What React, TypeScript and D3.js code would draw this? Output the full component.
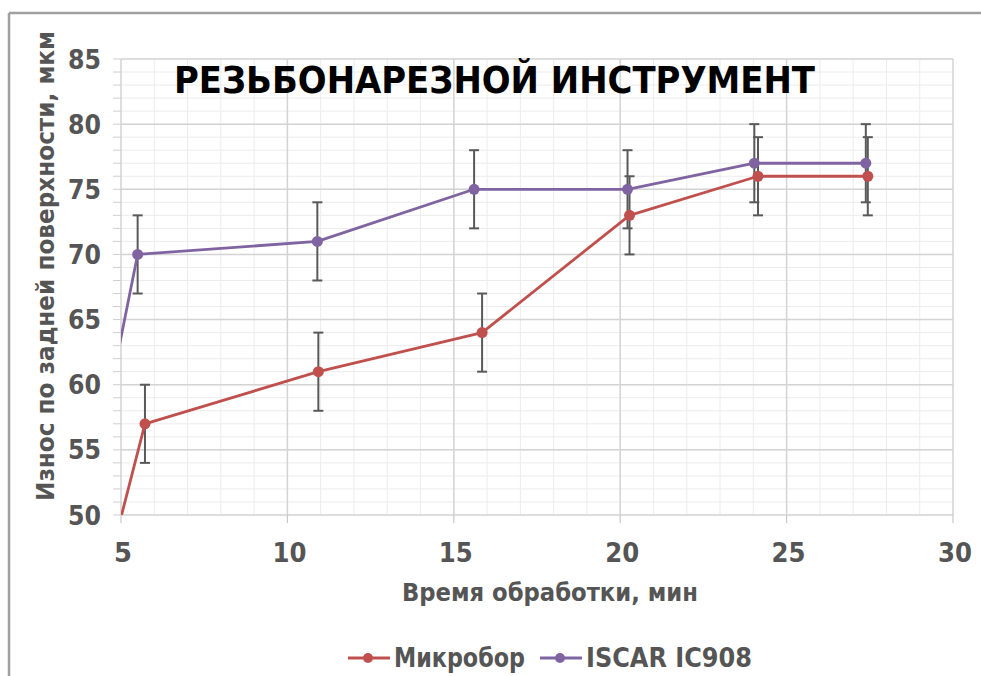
import React from 'react'
import * as d3 from 'd3'

// Время обработки (мин) и износ (мкм); первая точка (0, 0) обрезается осями
const timeMicrobor = [0, 5.72, 10.93, 15.85, 20.28, 24.14, 27.44]
const wearMicrobor = [0, 57, 61, 64, 73, 76, 76]
const errMicrobor = [0, 3, 3, 3, 3, 3, 3]

const timeIscar = [0, 5.5, 10.9, 15.61, 20.22, 24.03, 27.38]
const wearIscar = [0, 70, 71, 75, 75, 77, 77]
const errIscar = [0, 3, 3, 3, 3, 3, 3]

const seriesNames = ['Микробор', 'ISCAR IC908']
const seriesColors = ['#c0504d', '#8064a2']

const xTicks = [5, 10, 15, 20, 25, 30]
const yTicks = [50, 55, 60, 65, 70, 75, 80, 85]

const W = 981
const H = 676
const font = '"DejaVu Sans", sans-serif'
const textGray = '#555555'

const App = () => {
    const x = d3.scaleLinear().domain([5, 30]).range([121, 953])
    const y = d3.scaleLinear().domain([50, 85]).range([515, 59])

    const minorX = d3.range(5, 31, 1)
    const minorY = d3.range(50, 86, 1)

    const series = [
        { name: seriesNames[0], color: seriesColors[0], t: timeMicrobor, v: wearMicrobor, e: errMicrobor },
        { name: seriesNames[1], color: seriesColors[1], t: timeIscar, v: wearIscar, e: errIscar },
    ]

    const line = d3.line<[number, number]>()
        .x(d => x(d[0]))
        .y(d => y(d[1]))

    return (
        <svg width={W} height={H} style={{ position: 'absolute', left: 0, top: 0, background: '#fff' }}>
            <defs>
                <clipPath id="plot">
                    <rect x={x(5)} y={y(85) - 30} width={x(30) - x(5)} height={y(50) - y(85) + 30} />
                </clipPath>
            </defs>

            {/* рамка */}
            <line x1={9} x2={W} y1={13} y2={13} stroke="#a0a0a0" strokeWidth={2.5} />
            <line x1={9} x2={9} y1={13} y2={H} stroke="#a0a0a0" strokeWidth={2.5} />

            {/* сетка */}
            {minorY.map(v => (
                <line key={'my' + v} x1={x(5)} x2={x(30)} y1={y(v)} y2={y(v)} stroke="#ececec" strokeWidth={1} />
            ))}
            {minorX.map(v => (
                <line key={'mx' + v} x1={x(v)} x2={x(v)} y1={y(50)} y2={y(85)} stroke="#ececec" strokeWidth={1} />
            ))}
            {yTicks.map(v => (
                <line key={'gy' + v} x1={x(5)} x2={x(30)} y1={y(v)} y2={y(v)} stroke="#d4d4d4" strokeWidth={1.5} />
            ))}
            {xTicks.map(v => (
                <line key={'gx' + v} x1={x(v)} x2={x(v)} y1={y(50)} y2={y(85)} stroke="#d4d4d4" strokeWidth={1.5} />
            ))}

            {/* засечки */}
            {minorY.map(v => (
                <line key={'ty' + v} x1={x(5) - 8} x2={x(5)} y1={y(v)} y2={y(v)} stroke="#cfcfcf" strokeWidth={1} />
            ))}
            {xTicks.map(v => (
                <line key={'tx' + v} x1={x(v)} x2={x(v)} y1={y(50)} y2={y(50) + 8} stroke="#c8c8c8" strokeWidth={1.2} />
            ))}

            {/* подписи осей */}
            {yTicks.map(v => (
                <text key={'ly' + v} x={101} y={y(v) + 9.5} textAnchor="end" fontFamily={font} fontWeight="600"
                    fontSize={26} fill={textGray} textLength={33} lengthAdjust="spacingAndGlyphs">{v}</text>
            ))}
            {xTicks.map(v => (
                <text key={'lx' + v} x={x(v) + 2} y={562} textAnchor="middle" fontFamily={font} fontWeight="600"
                    fontSize={26} fill={textGray} textLength={v < 10 ? 18 : 34} lengthAdjust="spacingAndGlyphs">{v}</text>
            ))}

            <text x={550} y={601} textAnchor="middle" fontFamily={font} fontWeight="600" fontSize={24} fill={textGray}
                textLength={296} lengthAdjust="spacingAndGlyphs">Время обработки, мин</text>
            <text transform="translate(54,266) rotate(-90)" textAnchor="middle" fontFamily={font} fontWeight="600"
                fontSize={24} fill={textGray} textLength={470} lengthAdjust="spacingAndGlyphs">Износ по задней поверхности, мкм</text>

            {/* погрешности */}
            <g clipPath="url(#plot)">
                {series.map(s => s.t.map((t, i) => s.e[i] > 0 && (
                    <g key={s.name + i} stroke="#595959" strokeWidth={2}>
                        <line x1={x(t)} x2={x(t)} y1={y(s.v[i] - s.e[i])} y2={y(s.v[i] + s.e[i])} />
                        <line x1={x(t) - 5} x2={x(t) + 5} y1={y(s.v[i] - s.e[i])} y2={y(s.v[i] - s.e[i])} />
                        <line x1={x(t) - 5} x2={x(t) + 5} y1={y(s.v[i] + s.e[i])} y2={y(s.v[i] + s.e[i])} />
                    </g>
                )))}
            </g>

            {/* линии и маркеры */}
            <g clipPath="url(#plot)">
                {series.map(s => (
                    <g key={s.name}>
                        <path d={line(s.t.map((t, i) => [t, s.v[i]] as [number, number])) || ''}
                            fill="none" stroke={s.color} strokeWidth={2.8} strokeLinejoin="round" />
                        {s.t.map((t, i) => i > 0 && (
                            <circle key={i} cx={x(t)} cy={y(s.v[i])} r={5.5} fill={s.color} />
                        ))}
                    </g>
                ))}
            </g>

            {/* заголовок */}
            <text x={174} y={93} fontFamily={font} fontWeight="bold" fontSize={38} fill="#000"
                textLength={641} lengthAdjust="spacingAndGlyphs">РЕЗЬБОНАРЕЗНОЙ ИНСТРУМЕНТ</text>

            {/* легенда */}
            {series.map((s, i) => {
                const lx = i === 0 ? 348 : 540
                const tw = i === 0 ? 131 : 166
                return (
                    <g key={'lg' + s.name}>
                        <line x1={lx} x2={lx + 42} y1={658} y2={658} stroke={s.color} strokeWidth={2.8} />
                        <circle cx={lx + 20} cy={658} r={5} fill={s.color} />
                        <text x={lx + 46} y={667} fontFamily={font} fontWeight="600" fontSize={27} fill={textGray}
                            textLength={tw} lengthAdjust="spacingAndGlyphs">{s.name}</text>
                    </g>
                )
            })}
        </svg>
    )
}

export default App
